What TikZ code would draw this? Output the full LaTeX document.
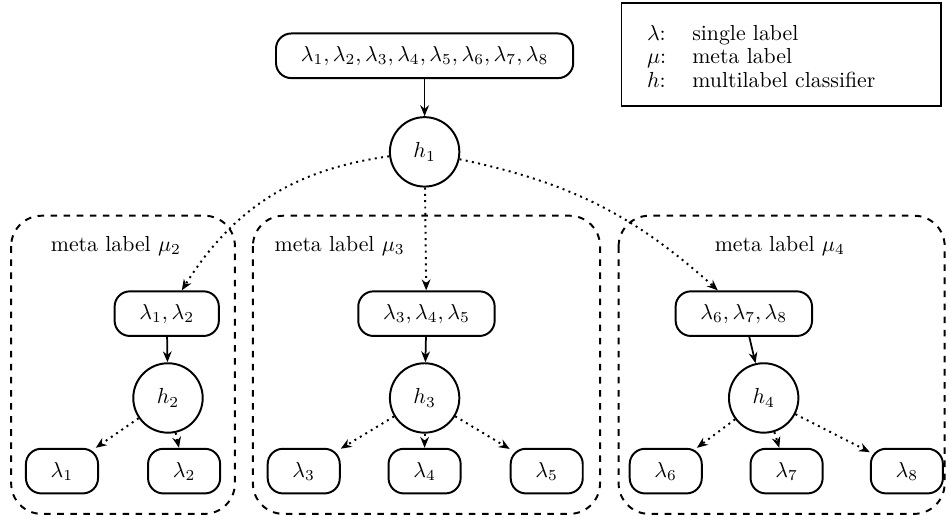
\documentclass[tikz,border=0pt]{standalone}
\usepackage{amsmath}
\usetikzlibrary{arrows.meta}

\begin{document}
\begin{tikzpicture}[
  lbox/.style={draw, line width=0.9pt, rounded corners=7pt, inner xsep=0.4cm,
               minimum height=0.72cm},
  hnode/.style={draw, circle, line width=0.9pt, minimum size=1.12cm},
  metabox/.style={draw, dashed, line width=0.9pt, rounded corners=14pt},
  feed/.style={-{Stealth[length=5pt, width=4pt]}, line width=0.8pt},
  route/.style={-{Stealth[length=5pt, width=4pt]}, dotted, line width=0.9pt}]
  \useasboundingbox (0,0) rectangle (15.31,-8.34);

  % legend
  \node[draw, line width=0.8pt, minimum width=5.15cm, minimum height=1.66cm]
    (legend) at (12.6,-0.88) {};
  \node[anchor=west, inner sep=0pt] (legtext) at ([xshift=0.42cm, yshift=-0.07cm]legend.west)
    {\renewcommand{\arraystretch}{0.9}%
     \begin{tabular}{@{}ll@{}}
       $\lambda$: & single label\\
       $\mu$:     & meta label\\
       $h$:       & multilabel classifier
     \end{tabular}};

  % root classifier
  \node[lbox] (all) at (6.85,-0.90)
    {$\lambda_1, \lambda_2, \lambda_3, \lambda_4, \lambda_5, \lambda_6, \lambda_7, \lambda_8$};
  \node[hnode] (h1) at (6.85,-2.45) {$h_1$};
  \draw[feed] (all) -- (h1);

  % meta label groups
  \draw[metabox] (0.18,-3.48) rectangle (3.79,-8.29);
  \draw[metabox] (4.08,-3.48) rectangle (9.68,-8.29);
  \draw[metabox] (9.98,-3.48) rectangle (15.24,-8.29);
  \node (m2) at (1.87,-3.97) {meta label $\mu_2$};
  \node (m3) at (5.48,-3.97) {meta label $\mu_3$};
  \node (m4) at (12.58,-3.97) {meta label $\mu_4$};

  % group mu_2
  \node[lbox] (s2) at (2.69,-5.06) {$\lambda_1, \lambda_2$};
  \node[hnode] (h2) at (2.71,-6.42) {$h_2$};
  \node[lbox] (l1) at (1.00,-7.60) {$\lambda_1$};
  \node[lbox] (l2) at (2.97,-7.60) {$\lambda_2$};

  % group mu_3
  \node[lbox] (s3) at (6.88,-5.06) {$\lambda_3, \lambda_4, \lambda_5$};
  \node[hnode] (h3) at (6.85,-6.42) {$h_3$};
  \node[lbox] (l3) at (4.90,-7.60) {$\lambda_3$};
  \node[lbox] (l4) at (6.85,-7.60) {$\lambda_4$};
  \node[lbox] (l5) at (8.82,-7.60) {$\lambda_5$};

  % group mu_4
  \node[lbox] (s4) at (12.0,-5.06) {$\lambda_6, \lambda_7, \lambda_8$};
  \node[hnode] (h4) at (12.32,-6.42) {$h_4$};
  \node[lbox] (l6) at (10.74,-7.60) {$\lambda_6$};
  \node[lbox] (l7) at (12.69,-7.60) {$\lambda_7$};
  \node[lbox] (l8) at (14.63,-7.60) {$\lambda_8$};

  % h1 routes to the meta labels
  \draw[route] (h1) to[bend right=25] (s2);
  \draw[route] (h1) -- (s3);
  \draw[route] (h1) to[bend left=15] (s4);

  % inside the groups
  \draw[feed] (s2) -- (h2);
  \draw[feed] (s3) -- (h3);
  \draw[feed] (s4) -- (h4);
  \draw[route] (h2) -- (l1);
  \draw[route] (h2) -- (l2);
  \draw[route] (h3) -- (l3);
  \draw[route] (h3) -- (l4);
  \draw[route] (h3) -- (l5);
  \draw[route] (h4) -- (l6);
  \draw[route] (h4) -- (l7);
  \draw[route] (h4) -- (l8);
\end{tikzpicture}
\end{document}
